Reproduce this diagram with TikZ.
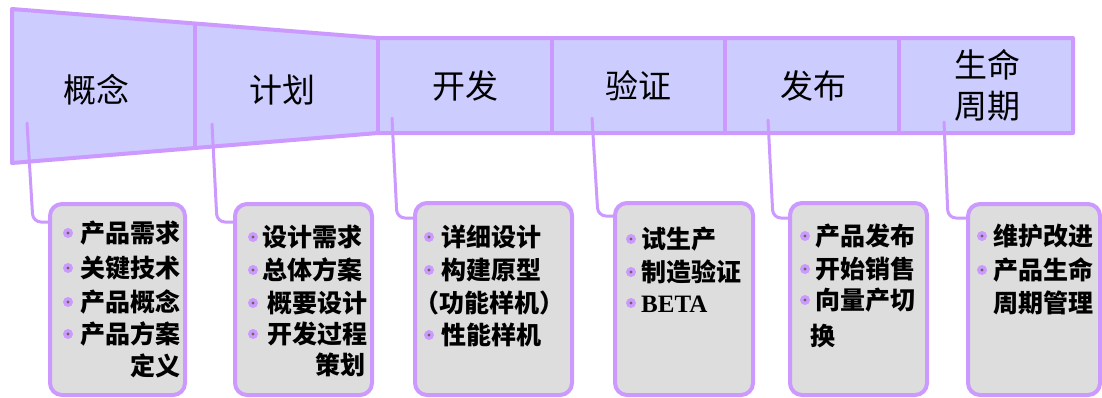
\documentclass[tikz,border=0pt]{standalone}
\usepackage{fontspec}
\setmainfont{Liberation Serif}
\newfontfamily\cjk{Noto Sans CJK SC}
\usetikzlibrary{calc,backgrounds}
\definecolor{edge}{RGB}{204,153,255}
\definecolor{bandfill}{RGB}{204,204,255}
\definecolor{boxfill}{RGB}{221,221,221}
\definecolor{dotc}{RGB}{102,102,102}
\begin{document}
\begin{tikzpicture}[x=1pt,y=-1pt,
  band/.style={fill=bandfill, draw=edge, line width=4pt, line join=round},
  divider/.style={draw=edge, line width=4pt},
  lbl/.style={font=\cjk\fontsize{33}{41}\selectfont, align=center, inner sep=0pt},
  box/.style={draw=edge, fill=boxfill, line width=4pt, rounded corners=12pt, inner sep=0pt},
  conn/.style={draw=edge, line width=3pt, rounded corners=8pt, line cap=round},
  item/.style={font=\cjk\bfseries\fontsize{25}{30}\selectfont, inner sep=0pt, text height=22pt, text depth=3pt, anchor=west},
  itemr/.style={item, anchor=east},
  bul/.style={circle, fill=edge, minimum size=10pt, inner sep=0pt,
    path picture={\fill[dotc] (path picture bounding box.center) circle (1.6pt);}}
]
\useasboundingbox (0,0) rectangle (1102,397);

% callout boxes
\node[box, minimum width=135pt, minimum height=191pt] (b1) at (117.5,299.5) {};
\node[box, minimum width=137pt, minimum height=191pt] (b2) at (303.5,299.5) {};
\node[box, minimum width=157pt, minimum height=192pt] (b3) at (493.5,299) {};
\node[box, minimum width=138pt, minimum height=192pt] (b4) at (684,299) {};
\node[box, minimum width=137pt, minimum height=192pt] (b5) at (858.5,299) {};
\node[box, minimum width=132pt, minimum height=191pt] (b6) at (1034,299.5) {};

% band labels
\node[lbl] (L1) at (96,90) {概念};
\node[lbl] (L2) at (282,90) {计划};
\node[lbl] (L3) at (465,86) {开发};
\node[lbl] (L4) at (638,86) {验证};
\node[lbl] (L5) at (813,86) {发布};
\node[lbl] (L6) at (987,85) {生命\\周期};

% connector points
\coordinate (s1) at (27,123);  \coordinate (k1) at (33,222);
\coordinate (s2) at (212,124); \coordinate (k2) at (217,222);
\coordinate (s3) at (392,118); \coordinate (k3) at (397,218);
\coordinate (s4) at (592,118); \coordinate (k4) at (598,216);
\coordinate (s5) at (768,120); \coordinate (k5) at (773,218);
\coordinate (s6) at (944,122); \coordinate (k6) at (948,218);

\begin{pgfonlayer}{background}
  \path[band] (12,9) -- (378,38) -- (1073,38) -- (1073,133) -- (378,133) -- (12,163) -- cycle;
  \draw[divider] (195,23.5) -- (195,148);
  \draw[divider] (378,38) -- (378,133);
  \draw[divider] (552,38) -- (552,133);
  \draw[divider] (725,38) -- (725,133);
  \draw[divider] (899,38) -- (899,133);
  \draw[conn] (s1) -- (k1) -- (k1 -| b1.center);
  \draw[conn] (s2) -- (k2) -- (k2 -| b2.center);
  \draw[conn] (s3) -- (k3) -- (k3 -| b3.center);
  \draw[conn] (s4) -- (k4) -- (k4 -| b4.center);
  \draw[conn] (s5) -- (k5) -- (k5 -| b5.center);
  \draw[conn] (s6) -- (k6) -- (k6 -| b6.center);
\end{pgfonlayer}

% box 1
\node[bul] (d11) at (68,233) {}; \node[item] (i11) at (80,233) {产品需求};
\node[bul] (d12) at (68,268) {}; \node[item] (i12) at (80,268) {关键技术};
\node[bul] (d13) at (68,302) {}; \node[item] (i13) at (80,302) {产品概念};
\node[bul] (d14) at (68,334) {}; \node[item] (i14) at (80,334) {产品方案};
\node[itemr] (i15) at (181,366) {定义};
% box 2
\node[bul] (d21) at (253,237) {}; \node[item] (i21) at (262,237) {设计需求};
\node[bul] (d22) at (253,270) {}; \node[item] (i22) at (262,270) {总体方案};
\node[bul] (d23) at (253,303) {}; \node[item] (i23) at (267,303) {概要设计};
\node[bul] (d24) at (253,334) {}; \node[item] (i24) at (267,334) {开发过程};
\node[itemr] (i25) at (366,365) {策划};
% box 3
\node[bul] (d31) at (429,237) {}; \node[item] (i31) at (441,237) {详细设计};
\node[bul] (d32) at (429,270) {}; \node[item] (i32) at (441,270) {构建原型};
\node[item, anchor=center] (i33) at (489,303) {（功能样机）};
\node[bul] (d34) at (429,335) {}; \node[item] (i34) at (441,335) {性能样机};
% box 4
\node[bul] (d41) at (631,239) {}; \node[item] (i41) at (641,239) {试生产};
\node[bul] (d42) at (631,272) {}; \node[item] (i42) at (641,272) {制造验证};
\node[bul] (d43) at (631,303) {}; \node[item, font=\rmfamily\bfseries\fontsize{25}{30}\selectfont] (i43) at (641,303) {BETA};
% box 5
\node[bul] (d51) at (805,236) {}; \node[item] (i51) at (815,236) {产品发布};
\node[bul] (d52) at (805,269) {}; \node[item] (i52) at (815,269) {开始销售};
\node[bul] (d53) at (805,300) {}; \node[item] (i53) at (815,300) {向量产切};
\node[item] (i54) at (810,336) {换};
% box 6
\node[bul] (d61) at (982,236) {}; \node[item] (i61) at (993,236) {维护改进};
\node[bul] (d62) at (982,270) {}; \node[item] (i62) at (993,270) {产品生命};
\node[item] (i63) at (993,303) {周期管理};
\end{tikzpicture}
\end{document}
